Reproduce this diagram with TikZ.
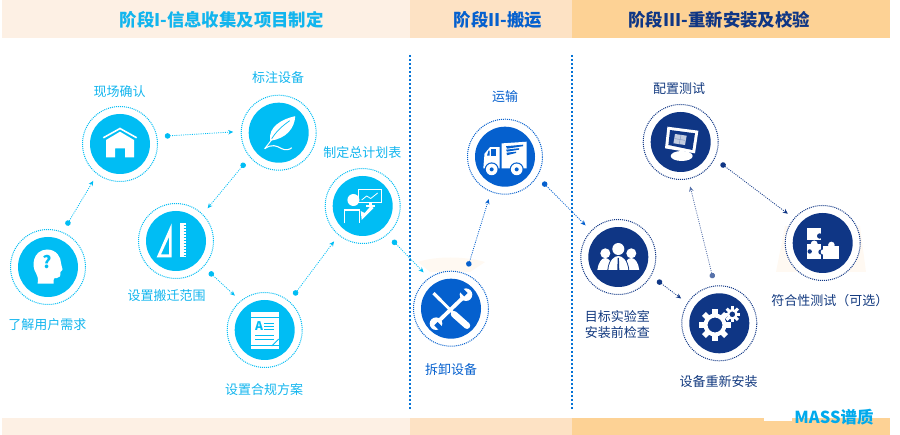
\documentclass[tikz,border=0pt]{standalone}
\usepackage{fontspec}
\setmainfont{Noto Sans CJK SC}
\usetikzlibrary{arrows.meta}
\definecolor{cy}{HTML}{00BDF4}
\definecolor{cyt}{HTML}{12B5EE}
\definecolor{bl}{HTML}{0560CE}
\definecolor{nv}{HTML}{0F3685}
\definecolor{nvt}{HTML}{12397F}
\definecolor{bandA}{HTML}{FDF0E4}
\definecolor{bandB}{HTML}{FDE2C4}
\definecolor{bandC}{HTML}{FDD295}
\definecolor{smudge}{HTML}{FFF9F2}
\tikzset{
  ring/.style={circle,draw=#1,line width=1pt,dash pattern=on 1pt off 1pt,minimum size=75pt,outer sep=8pt,inner sep=0pt},
  disc/.style={circle,fill=#1,minimum size=60pt,inner sep=0pt,outer sep=0pt},
  conn/.style={draw=#1,line width=.8pt,dash pattern=on 1pt off 1.2pt,{Circle[length=5.5pt,width=5.5pt,fill=#1]}-{Stealth[length=5pt,width=4.5pt,fill=#1]}},
  lab/.style={text=#1,font=\fontsize{13}{15}\selectfont,inner sep=0pt,align=center},
  head/.style={text=#1,font=\bfseries\fontsize{17.4}{20}\selectfont,inner sep=0pt},
  sep/.style={draw=#1,line width=2pt,dash pattern=on 2pt off 2pt},
  band/.style={fill=#1,draw=none},
}
\begin{document}
\begin{tikzpicture}[x=1pt,y=-1pt]
\useasboundingbox (0,0) rectangle (900,435);
% bands
\path[band=bandA] (2,0) rectangle (410,38);
\path[band=bandB] (410,0) rectangle (572,38);
\path[band=bandC] (572,0) rectangle (890,38);
\path[band=bandA] (2,418) rectangle (410,435);
\path[band=bandB] (410,418) rectangle (572,435);
\path[band=bandC] (572,418) rectangle (890,435);
\path[fill=white] (764,414) rectangle (792,421);
% faint smudges behind the circles
\fill[smudge] (776,272) -- (785,226) -- (860,226) -- (866,272) -- cycle;
\fill[smudge] (418,262) .. controls (435,256) and (465,256) .. (485,262) -- (470,272) -- (430,272) -- cycle;
\node[head=cyt] (h1) at (221.7,20) {阶段I-信息收集及项目制定};
\node[head=bl] (h2) at (498,20) {阶段II-搬运};
\node[head=nv] (h3) at (719.3,20) {阶段III-重新安装及校验};
% separators
\draw[sep=bl!80!cy] (410,55) -- (410,410);
\draw[sep=bl!80!cy] (572,55) -- (572,410);
% circles
\foreach \n/\x/\y/\c in {q/48/267/cy,house/120/144/cy,leaf/278.7/132.7/cy,rule/176/241/cy,docu/264.7/330/cy,plan/362.7/206/cy,tool/451/308.7/bl,truck/505/156.7/bl,moni/680.7/142/nv,peop/618.3/257/nv,gear/719.3/323.3/nv,puzz/822.7/243/nv}{
  \node[ring=\c,fill=white] (\n) at (\x,\y) {};
  \node[disc=\c] (\n d) at (\x,\y) {};
}
% connectors
\draw[conn=cy] (q.66.8) -- (house.234.2);
\draw[conn=cy] (house.10) -- (leaf.179.5);
\draw[conn=cy] (leaf.222.6) -- (rule.46.9);
\draw[conn=cy] (rule.-43.5) -- (docu.131);
\draw[conn=cy] (docu.50.3) -- (plan.231.7);
\draw[conn=cy] (plan.-49.6) -- (tool.127.6);
\draw[conn=bl] (tool.68.7) -- (truck.249.5);
\draw[conn=bl] (truck.-34.6) -- (peop.136.6);
\draw[conn=nv] (peop.-31) -- (gear.147);
\draw[conn=nv!70] (gear.98.8) -- (moni.-78.6);
\draw[conn=nv] (moni.-28.8) -- (puzz.140.9);
% icon: head
\begin{scope}[shift={(48,267)}]
\fill[white] (-10.3,16.7) .. controls (-10,11) and (-10,9) .. (-12,6) .. controls (-17,-1) and (-15,-17) .. (-1,-17.5) .. controls (9,-17.5) and (13,-9) .. (13,-4) .. controls (13,-1) and (15,2) .. (14.5,3) .. controls (14,4) and (12.5,4) .. (12.5,5) .. controls (12.5,9) and (12,11) .. (9,11) .. controls (7,11) and (5.5,11) .. (5.5,13) -- (5.5,16.7) -- cycle;
\node[text=cy,font=\bfseries\fontsize{17}{17}\selectfont,inner sep=0pt] (qm) at (-1,-5) {?};
\end{scope}
% icon: house
\begin{scope}[shift={(120,144)}]
\draw[white,line width=1.6pt] (-16.7,-6.2) -- (0,-15.5) -- (16.7,-6.2);
\fill[white] (-14,-4) -- (0,-12.3) -- (14,-4) -- (14,13.3) -- (5,13.3) -- (5,4.3) -- (-5,4.3) -- (-5,13.3) -- (-14,13.3) -- cycle;
\end{scope}
% icon: feather
\begin{scope}[shift={(278.7,132.7)}]
\fill[white] (-8.5,8) .. controls (-11,-6) and (4,-14) .. (16.5,-16.5) .. controls (16,-5) and (8,6) .. (-8.5,8) -- cycle;
\draw[cy,line width=.7pt] (-7,6) .. controls (-2,-2) and (4,-7) .. (11,-12);
\draw[white,line width=1pt] (-14,16) -- (-7,7);
\draw[white,line width=1.1pt] (-14,16) .. controls (-7,11) and (-2,13) .. (3,16) .. controls (7,18) and (11,17) .. (13,15);
\end{scope}
% icon: rulers
\begin{scope}[shift={(176,241)}]
\fill[white,even odd rule] (-4.3,-17.7) -- (-4.3,16.3) -- (-19.3,16.3) -- cycle (-7,-4) -- (-7,13.3) -- (-15,13.3) -- cycle;
\fill[white] (4,-18.3) rectangle (9.7,16.3);
\foreach \t in {-16,-13,...,14}{\draw[cy,line width=.4pt] (7.5,\t) -- (9.7,\t);}
\end{scope}
% icon: document
\begin{scope}[shift={(264.7,330)}]
\fill[white] (-13.7,-17.7) rectangle (14.7,19);
\fill[cy] (-13.7,-12.7) rectangle (14.7,-11.7);
\node[text=cy,font=\bfseries\fontsize{12}{12}\selectfont,inner sep=0pt] (docA) at (-5.5,-3.5) {A};
\foreach \t in {-7,-3.7,-.4}{\draw[cy,line width=.9pt] (-.5,\t) -- (9.5,\t);}
\foreach \t in {5,9.3}{\draw[cy,line width=.9pt] (-9.5,\t) -- (9.5,\t);}
\fill[cy] (-13.7,15) rectangle (14.7,15.8);
\draw[cy,line width=.9pt] (7,16) -- (14,9);
\end{scope}
% icon: presenter
\begin{scope}[shift={(362.7,206)}]
\draw[white,line width=1.2pt] (-4,-16.5) rectangle (19,-3.5);
\draw[white,line width=.8pt] (-1,-6) -- (4,-10) -- (8,-7.5) -- (15,-13);
\fill[white] (6,-2.5) rectangle (9,-.5);
\fill[white] (3,-.5) rectangle (12,.7);
\fill[white] (-9.3,-6) circle (6);
\draw[white,line width=1.4pt] (-18,17.3) -- (-18,4) -- (-3,4) -- (-3,17.3);
\fill[white] (-1,14) -- (-2,5) -- (2,7) -- (8,0) -- (11,2) -- (3,10) -- cycle;
\end{scope}
% icon: tools
\begin{scope}[shift={(451,308.7)}]
\draw[white,line width=2.8pt] (-13,-11) -- (2,4);
\draw[white,line width=6.5pt,line cap=round] (3,5.5) -- (16,17);
\draw[white,line width=3.2pt,rotate around={45:(-14,-12)}] (-14,-17) -- (-14,-7);
\draw[white,line width=3.8pt] (13,-12) -- (-13,13);
\fill[white] (15,-14) circle (6.3);
\fill[white] (-15,15) circle (6.3);
\fill[bl,rotate around={45:(15,-14)}] (12.6,-24) rectangle (17.4,-14);
\fill[bl,rotate around={45:(-15,15)}] (-17.4,15) rectangle (-12.6,25);
\end{scope}
% icon: truck
\begin{scope}[shift={(505,156.7)}]
\fill[white] (-3.3,-13.3) -- (21.7,-15) -- (21.7,11.7) -- (-3.3,11.7) -- cycle;
\fill[white] (-21.7,11.7) -- (-20.5,-3) -- (-15,-9.5) -- (-5.5,-9.5) -- (-5.5,11.7) -- cycle;
\fill[bl] (-14.5,-7.5) rectangle (-9,-1);
\fill[bl] (-18,-1) -- (-16.5,-6) -- (-15.5,-6) -- (-15.5,-1) -- cycle;
\fill[bl] (1,-10.5) -- (18,-12) -- (18,-10.5) -- (2,-8) -- cycle;
\fill[bl] (1,-7) -- (14,-8.5) -- (14,-7) -- (2,-5) -- cycle;
\fill[bl] (1.5,-4) -- (11,-5) -- (11,-3.7) -- (2,-1.5) -- cycle;
\foreach \p in {-13.3,11.7}{
  \fill[bl] (\p,12.7) circle (7);
  \fill[white] (\p,12.7) circle (5.8);
  \fill[bl] (\p,12.7) circle (2);
}
\end{scope}
% icon: monitor
\begin{scope}[shift={(680.7,142)}]
\fill[white] (-13.3,-15.3) -- (17.7,-11.3) -- (14.3,11.3) -- (-15.7,6.3) -- cycle;
\fill[nv] (-10.7,-12) -- (14.3,-8.7) -- (11.7,8) -- (-12.3,3) -- cycle;
\fill[white!75!nv] (-5.7,-8) -- (6,-6.3) -- (4.3,3) -- (-7.3,1.3) -- cycle;
\draw[nv!50!white,line width=.5pt] (0.3,-7) -- (-1.5,2) (-6.5,-3.5) -- (5,-1.5);
\fill[white] (1,14) ellipse (11 and 5);
\end{scope}
% icon: people
\begin{scope}[shift={(618.3,257)}]
\foreach \s in {-1,1}{
  \fill[white] (\s*13,-3.7) circle (5);
  \fill[white] (\s*21,13) .. controls (\s*20,6) and (\s*17,1) .. (\s*13,1) .. controls (\s*9,1) and (\s*6,6) .. (\s*5,13) -- cycle;
}
\fill[nv] (-11,13.5) .. controls (-10,3) and (-5,-2) .. (0,-2) .. controls (5,-2) and (10,3) .. (11,13.5) -- cycle;
\fill[white] (0,-8) circle (6);
\fill[white] (-10,13) .. controls (-9,3) and (-4,-1) .. (0,-1) .. controls (4,-1) and (9,3) .. (10,13) -- cycle;
\fill[nv] (-.6,1) -- (.6,1) -- (1,13) -- (-1,13) -- cycle;
\end{scope}
% icon: gears
\begin{scope}[shift={(719.3,323.3)}]
\foreach \a in {0,45,...,315}{\fill[white,rotate around={\a:(-4.3,1.7)}] (-7,-14) rectangle (-1.6,-8);}
\draw[white,line width=4pt] (-4.3,1.7) circle (9.5);
\foreach \a in {0,45,...,315}{\fill[white,rotate around={\a:(13,-9)}] (11.5,-17) rectangle (14.5,-13);}
\draw[white,line width=2.4pt] (13,-9) circle (4.2);
\end{scope}
% icon: puzzle
\begin{scope}[shift={(822.7,243)}]
\fill[white] (-15.3,-14.7) rectangle (-1.5,-3);
\fill[nv] (-3,-7) circle (2.7);
\fill[white] (-15.3,1) rectangle (-1.7,16);
\fill[white] (-8.5,1) circle (3.5);
\fill[nv] (-1.7,9) circle (2.7);
\fill[nv] (-13,8.5) circle (2.2);
\fill[white] (.7,3) rectangle (16.7,16);
\fill[white] (8.7,2) circle (3.3);
\fill[white] (.7,9) circle (2.7);
\end{scope}
% labels
\node[lab=cyt] (l1) at (47.3,325) {了解用户需求};
\node[lab=cyt] (l2) at (119.5,91.7) {现场确认};
\node[lab=cyt] (l3) at (278,78) {标注设备};
\node[lab=cyt] (l4) at (166.7,296) {设置搬迁范围};
\node[lab=cyt] (l5) at (264,389.3) {设置合规方案};
\node[lab=cyt] (l6) at (362.3,152.3) {制定总计划表};
\node[lab=bl] (l7) at (451,370) {拆卸设备};
\node[lab=bl] (l8) at (505,97) {运输};
\node[lab=nvt] (l9) at (679,89) {配置测试};
\node[lab=nvt] (l10) at (617.3,324.5) {目标实验室\\[.6pt]安装前检查};
\node[lab=nvt] (l11) at (718.7,381.7) {设备重新安装};
\node[lab=nvt] (l12) at (829.8,301) {符合性测试（可选）};
\node[text=cy!80!bl,font=\bfseries\fontsize{16.5}{18}\selectfont,inner sep=0pt] (mark) at (834,417) {MASS谱质};
\end{tikzpicture}
\end{document}
